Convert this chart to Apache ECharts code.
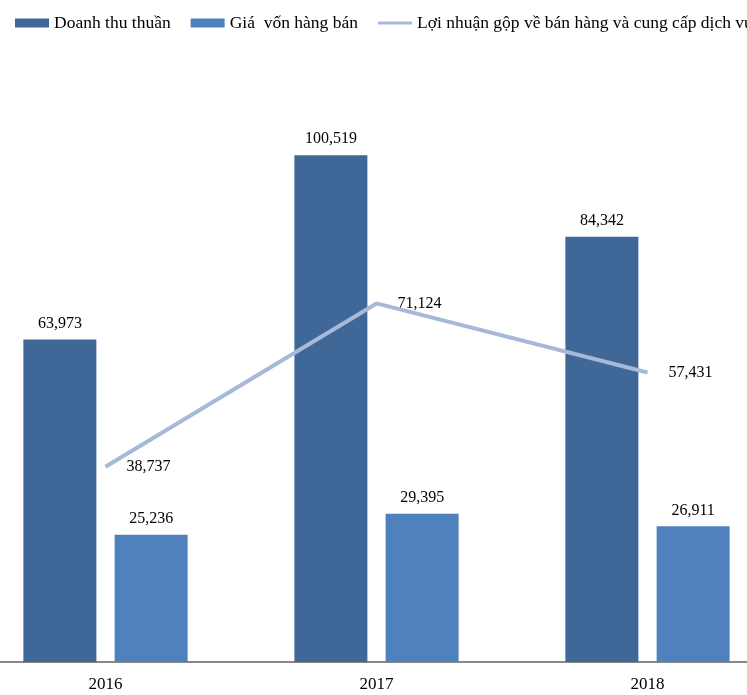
<!DOCTYPE html>
<html><head><meta charset="utf-8">
<script src="https://cdn.jsdelivr.net/npm/echarts@6/dist/echarts.min.js"></script>
<style>html,body{margin:0;padding:0;background:#fff;overflow:hidden;width:747px;height:695px}#c{width:813px;height:695px;margin-left:-30px}</style>
</head><body><div id="c"></div>
<script>
var categories = ['2016', '2017', '2018'];
var revenue = [63973, 100519, 84342];
var cogs = [25236, 29395, 26911];
var grossProfit = [38737, 71124, 57431];
var seriesNames = ['Doanh thu thuần', 'Giá  vốn hàng bán', 'Lợi nhuận gộp về bán hàng và cung cấp dịch vụ'];

var font = 'Liberation Serif';
var fmt = function (p) { return Number(p.value).toLocaleString('en-US'); };
var chart = echarts.init(document.getElementById('c'));
chart.setOption({
  animation: false,
  textStyle: { fontFamily: font },
  legend: {
    left: 45, top: 14, width: 2000, padding: 0,
    itemWidth: 34, itemHeight: 9, itemGap: 20,
    textStyle: { fontFamily: font, fontSize: 17.5, color: '#000' },
    data: [
      { name: seriesNames[0], icon: 'rect' },
      { name: seriesNames[1], icon: 'rect' },
      { name: seriesNames[2], icon: 'path://M0,0H34V3H0Z', itemStyle: { color: '#A7B9D8' } }
    ]
  },
  grid: { left: 0, right: 0, top: 57, bottom: 33, containLabel: false },
  xAxis: {
    type: 'category', data: categories,
    axisLine: { lineStyle: { color: '#888', width: 2 } },
    axisTick: { show: false },
    axisLabel: { fontFamily: font, fontSize: 17, color: '#000', margin: 14 }
  },
  yAxis: { type: 'value', min: 0, max: 120000, show: false, splitLine: { show: false } },
  series: [
    { name: seriesNames[0], type: 'bar', data: revenue, barWidth: 73, barGap: '25%',
      itemStyle: { color: '#3F6797' },
      label: { show: true, position: 'top', distance: 8, formatter: fmt, fontFamily: font, fontSize: 16, color: '#000' } },
    { name: seriesNames[1], type: 'bar', data: cogs, barWidth: 73,
      itemStyle: { color: '#4F81BD' },
      label: { show: true, position: 'top', distance: 8, formatter: fmt, fontFamily: font, fontSize: 16, color: '#000' } },
    { name: seriesNames[2], type: 'line', data: grossProfit, symbol: 'none',
      lineStyle: { color: '#A7B9D8', width: 4 }, itemStyle: { color: '#A7B9D8' } },
    { name: 'labels', type: 'scatter', data: grossProfit, symbolSize: 2, silent: true,
      itemStyle: { color: 'rgba(0,0,0,0)', opacity: 1 },
      label: { show: true, position: 'right', distance: 20, formatter: fmt, fontFamily: font, fontSize: 16, color: '#000' } }
  ]
});
</script></body></html>
